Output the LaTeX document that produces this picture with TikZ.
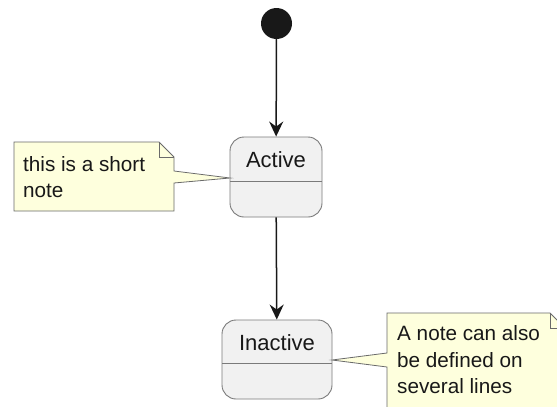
\documentclass[tikz,border=0pt]{standalone}
\usepackage{fontspec}
\setmainfont{Liberation Sans}
\usetikzlibrary{arrows.meta}
\definecolor{ink}{HTML}{181818}
\definecolor{statefill}{HTML}{F1F1F1}
\definecolor{stateline}{HTML}{7A7A7A}
\definecolor{notefill}{HTML}{FEFFDD}
\definecolor{noteline}{HTML}{6A6A6A}
\tikzset{
  statebox/.style={draw=stateline, fill=statefill, line width=0.9pt, rounded corners=14pt, inner sep=0pt},
  stateline/.style={draw=stateline, line width=0.9pt},
  statetext/.style={font=\fontsize{22}{26}\selectfont, text=ink, inner sep=0pt},
  notebody/.style={draw=noteline, fill=notefill, line width=0.8pt, line join=miter},
  notetext/.style={font=\fontsize{20.7}{26.5}\selectfont, text=ink, align=left, inner sep=0pt, anchor=west},
  trans/.style={draw=ink, line width=1.5pt, -{Stealth[length=15pt, width=14pt, inset=5pt]}},
  startdot/.style={circle, fill=ink, minimum size=31pt, inner sep=0pt}
}
\begin{document}
\begin{tikzpicture}[x=1pt,y=-1pt]
\useasboundingbox (0,0) rectangle (557,407);
\clip (0,0) rectangle (557,407);
\fill[white] (0,0) rectangle (557,407);

% start
\node[startdot] (start) at (276.5,23.5) {};

% states
\node[statebox, minimum width=92pt, minimum height=80pt] (active) at (276,177) {};
\draw[stateline] (230,181) -- (322,181);
\node[statetext] (activelbl) at (276,160) {Active};

\node[statebox, minimum width=110pt, minimum height=79pt] (inactive) at (277,359.5) {};
\draw[stateline] (222,363) -- (332,363);
\node[statetext] (inactivelbl) at (277,343) {Inactive};

% transitions
\draw[trans] (start) -- (active);
\draw[trans] (active) -- (inactive);

% note 1
\coordinate (n1tip) at (230,178);
\path[notebody] (14,142) -- (159,142) -- (174,157) -- (174,171) -- (n1tip) -- (174,183) -- (174,211) -- (14,211) -- cycle;
\draw[notebody, fill=none] (159,142) -- (159,157) -- (174,157);
\node[notetext] (note1) at (23,177) {this is a short\\note};

% note 2
\coordinate (n2tip) at (332,360);
\path[notebody] (387,313) -- (550,313) -- (565,328) -- (565,412) -- (387,412) -- (387,367) -- (n2tip) -- (387,353) -- cycle;
\draw[notebody, fill=none] (550,313) -- (550,328) -- (565,328);
\node[notetext] (note2) at (397,360) {A note can also\\be defined on\\several lines};
\end{tikzpicture}
\end{document}
